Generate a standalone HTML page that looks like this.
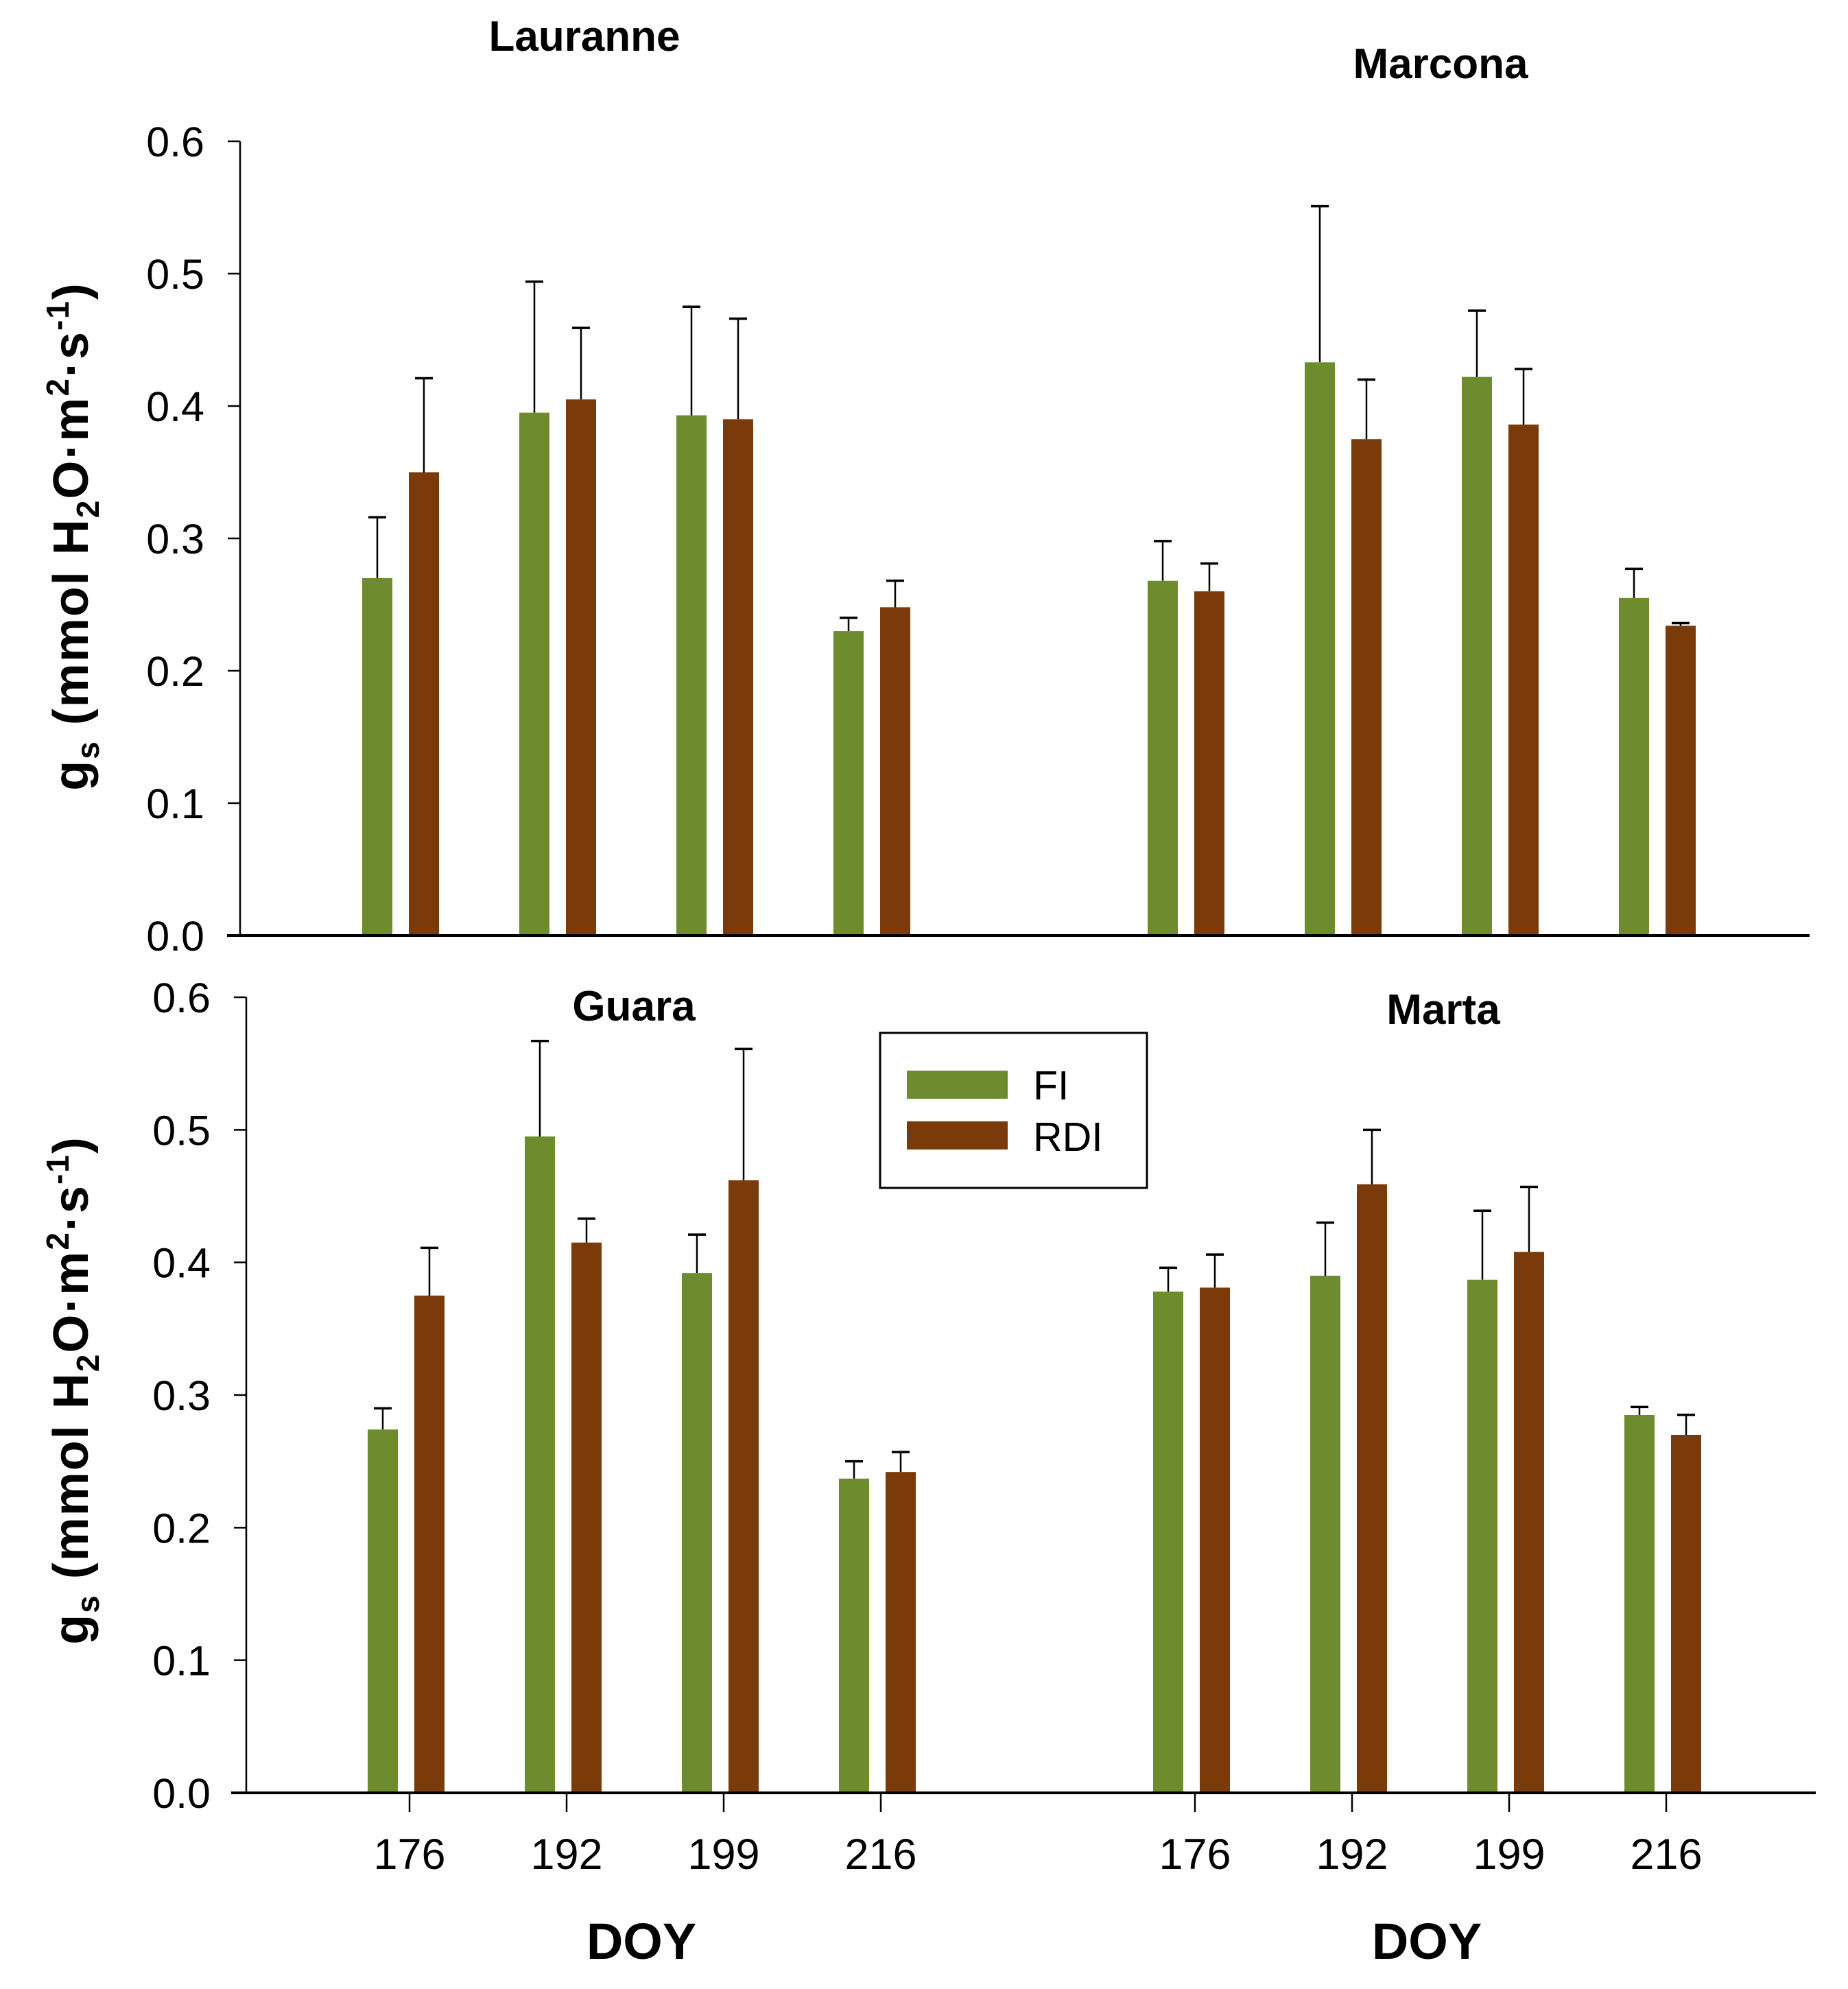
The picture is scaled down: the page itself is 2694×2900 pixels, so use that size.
<!DOCTYPE html>
<html><head><meta charset="utf-8"><style>
html,body{margin:0;padding:0;background:#fff;}
svg{display:block;font-family:"Liberation Sans",Arial,sans-serif;}
</style></head><body>
<svg id="chart" width="2694" height="2900" viewBox="0 0 2694 2900" xmlns="http://www.w3.org/2000/svg">
<rect width="2694" height="2900" fill="#fff"/>
<g id="legend">
<rect x="1283" y="1506" width="389" height="226" fill="#fff" stroke="#000" stroke-width="3"/>
<rect x="1322" y="1561" width="147" height="41" fill="#6E8B2E"/>
<text x="1506" y="1603" font-size="59">FI</text>
<rect x="1322" y="1635" width="147" height="41" fill="#7B3A09"/>
<text x="1506" y="1678" font-size="59">RDI</text>
</g>
</svg>
<script>
const days = ["176","192","199","216"];
const yTicks = [0,0.1,0.2,0.3,0.4,0.5,0.6];
const yTickLabels = ["0.0","0.1","0.2","0.3","0.4","0.5","0.6"];
const lauranneFI = [0.27,0.395,0.393,0.23];
const lauranneFIerr = [0.316,0.494,0.475,0.240];
const lauranneRDI = [0.35,0.405,0.39,0.248];
const lauranneRDIerr = [0.421,0.459,0.466,0.268];
const marconaFI = [0.268,0.433,0.422,0.255];
const marconaFIerr = [0.298,0.551,0.472,0.277];
const marconaRDI = [0.26,0.375,0.386,0.234];
const marconaRDIerr = [0.281,0.420,0.428,0.236];
const guaraFI = [0.274,0.495,0.392,0.237];
const guaraFIerr = [0.290,0.567,0.421,0.250];
const guaraRDI = [0.375,0.415,0.462,0.242];
const guaraRDIerr = [0.411,0.433,0.561,0.257];
const martaFI = [0.378,0.390,0.387,0.285];
const martaFIerr = [0.396,0.430,0.439,0.291];
const martaRDI = [0.381,0.459,0.408,0.270];
const martaRDIerr = [0.406,0.500,0.457,0.285];

const NS="http://www.w3.org/2000/svg";
const svg=document.getElementById('chart');
const legend=document.getElementById('legend');
function mk(tag,attrs,parent){const e=document.createElementNS(NS,tag);for(const k in attrs)e.setAttribute(k,attrs[k]);(parent||svg).insertBefore(e,legend);return e;}

const panels=[
 {axisX:350,y0:1364,y6:206,xStart:331,xEnd:2638,c0:589,showX:false,titles:[["Lauranne",852,52],["Marcona",2100,92]],
  groups:[[lauranneFI,lauranneFIerr,lauranneRDI,lauranneRDIerr,"lauranne"],[marconaFI,marconaFIerr,marconaRDI,marconaRDIerr,"marcona"]]},
 {axisX:359,y0:2614,y6:1454,xStart:337,xEnd:2647,c0:597,showX:true,titles:[["Guara",924,1466],["Marta",2104,1471]],
  groups:[[guaraFI,guaraFIerr,guaraRDI,guaraRDIerr,"guara"],[martaFI,martaFIerr,martaRDI,martaRDIerr,"marta"]]}
];
const step=229;
panels.forEach((p,pi)=>{
  const y=v=>p.y0-(v/0.6)*(p.y0-p.y6);
  const xc=(g,i)=>p.c0+(g*5+i)*step;
  p.groups.forEach((grp,g)=>{
    grp[0].forEach((v,i)=>{
      const c=xc(g,i);
      [[grp[0][i],grp[1][i],c-61,"#6E8B2E","fi"],[grp[2][i],grp[3][i],c+7,"#7B3A09","rdi"]].forEach(b=>{
        const top=y(b[1]);
        const ln=mk('line',{x1:b[2]+22,x2:b[2]+22,y1:y(b[0]),y2:top,stroke:"#000","stroke-width":2.5});
        
        
        const cap=mk('line',{x1:b[2]+9,x2:b[2]+35,y1:top,y2:top,stroke:"#000","stroke-width":3.5});
        
        
        const r=mk('rect',{x:b[2],y:y(b[0]),width:44,height:p.y0-y(b[0]),fill:b[3]});
        
        
      });
      if(p.showX){
        const t=mk('line',{x1:c,x2:c,y1:p.y0,y2:p.y0+28,stroke:"#000","stroke-width":2.5});
        
        
        const tl=mk('text',{x:c,y:2725,"font-size":63,"text-anchor":"middle"});
        tl.textContent=days[i];
        
        
      }
    });
  });
  const ya=mk('line',{x1:p.axisX,x2:p.axisX,y1:p.y6,y2:p.y0,stroke:"#000","stroke-width":2.5});
  
  
  const xa=mk('line',{x1:p.xStart,x2:p.xEnd,y1:p.y0,y2:p.y0,stroke:"#000","stroke-width":4});
  
  
  yTicks.forEach((v,k)=>{
    const t=mk('line',{x1:p.axisX-18,x2:p.axisX,y1:y(v),y2:y(v),stroke:"#000","stroke-width":2.5});
    
    
    const tl=mk('text',{x:p.axisX-52,y:y(v)+22,"font-size":61,"text-anchor":"end"});
    tl.textContent=yTickLabels[k];
    
    
  });
  p.titles.forEach(tt=>{
    const t=mk('text',{x:tt[1],y:tt[2]+22,"font-size":62,"font-weight":"bold","text-anchor":"middle"});
    t.textContent=tt[0];
    
    
  });
  const yt=mk('text',{transform:`translate(128,${pi==0?782:2027}) rotate(-90)`,"font-size":72,"font-weight":"bold","text-anchor":"middle","letter-spacing":"2"});
  yt.innerHTML='g<tspan font-size="46" dy="16">s</tspan><tspan dy="-16"> (mmol H</tspan><tspan font-size="46" dy="16">2</tspan><tspan dy="-16">O·m</tspan><tspan font-size="46" dy="-28">2</tspan><tspan dy="28">·s</tspan><tspan font-size="46" dy="-28">-1</tspan><tspan dy="28">)</tspan>';
  
  
});
[935,2080].forEach(x=>{
  const t=mk('text',{x:x,y:2856,"font-size":74,"font-weight":"bold","text-anchor":"middle"});
  t.textContent="DOY";
  
  
});
</script>
</body></html>
